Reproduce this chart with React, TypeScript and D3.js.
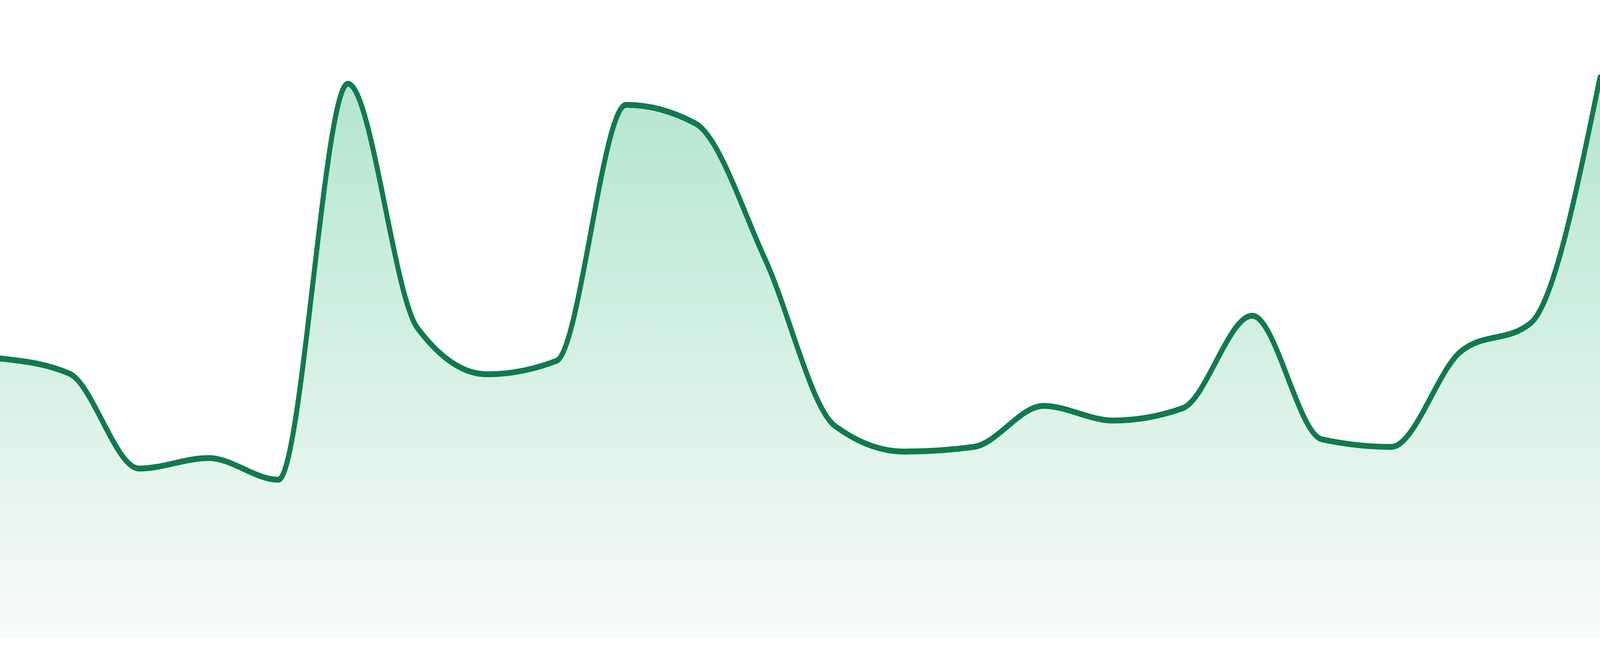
import React, { useEffect } from "react";
import * as d3 from "d3";

const W = 4800;
const H = 1680;

// One value per evenly spaced sample (24 samples)
const labels: number[] = Array.from({ length: 24 }, (_, i) => i);
const values: number[] = [
  47.6, 45.0, 28.8, 30.6, 26.9, 94.5, 52.8, 44.9, 47.2, 90.9, 87.7, 64.5,
  36.1, 31.7, 32.5, 39.5, 37.0, 39.1, 54.9, 33.8, 32.5, 48.8, 53.6, 95.6,
];

const LINE_COLOR = "#117a4f";
const FILL_TOP = "#b3e5d0";
const FILL_BOTTOM = "#f8fbfa";

export default function App() {
  useEffect(() => {
    document.body.style.margin = "0";
    document.body.style.overflow = "hidden";
  }, []);

  const x = d3.scaleLinear().domain([0, labels.length - 1]).range([0, W]);
  const y = d3.scaleLinear().domain([0, 100]).range([1632, 132]);

  const data = labels.map((l, i) => ({ l, v: values[i] }));
  const area = d3
    .area<{ l: number; v: number }>()
    .x((d) => x(d.l))
    .y0(y(0))
    .y1((d) => y(d.v))
    .curve(d3.curveMonotoneX);
  const line = d3
    .line<{ l: number; v: number }>()
    .x((d) => x(d.l))
    .y((d) => y(d.v))
    .curve(d3.curveMonotoneX);

  const top = y(d3.max(values) as number);

  return (
    <div style={{ position: "fixed", left: 0, top: 0, width: "100vw", height: "100vh", background: "#fff" }}>
      <svg
        viewBox={`0 0 ${W} ${H}`}
        preserveAspectRatio="none"
        style={{ display: "block", width: "100vw", height: "100vh" }}
      >
        <defs>
          <linearGradient id="g" gradientUnits="userSpaceOnUse" x1={0} y1={top} x2={0} y2={y(0)}>
            <stop offset="0" stopColor={FILL_TOP} />
            <stop offset="1" stopColor={FILL_BOTTOM} />
          </linearGradient>
        </defs>
        <path d={area(data) || ""} fill="url(#g)" />
        <path d={line(data) || ""} fill="none" stroke={LINE_COLOR} strokeWidth={15} strokeLinejoin="round" strokeLinecap="round" />
      </svg>
    </div>
  );
}
